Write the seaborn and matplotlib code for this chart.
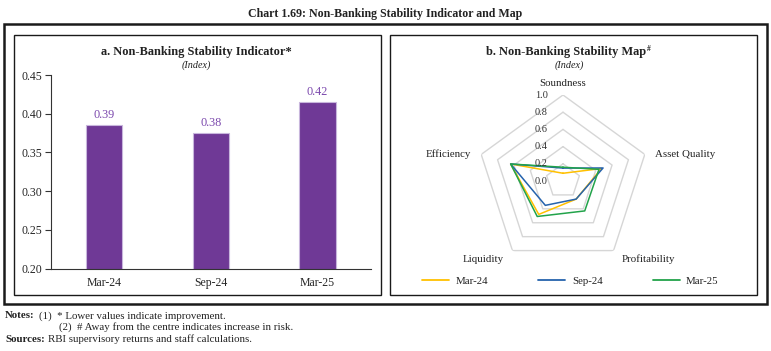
import numpy as np
import pandas as pd
import seaborn as sns
import matplotlib.pyplot as plt
from matplotlib.patches import Rectangle

# data
periods = ['Mar-24', 'Sep-24', 'Mar-25']
nbsi = [0.385, 0.375, 0.415]
nbsi_labels = ['0.39', '0.38', '0.42']

dimensions = ['Soundness', 'Asset Quality', 'Profitability', 'Liquidity', 'Efficiency']
map_mar24 = [0.09, 0.47, 0.26, 0.48, 0.64]
map_sep24 = [0.15, 0.49, 0.26, 0.35, 0.64]
map_mar25 = [0.16, 0.44, 0.43, 0.51, 0.64]
ring_levels = [0.2, 0.4, 0.6, 0.8, 1.0]

purple = '#6f3996'
line_colors = ['#ffc000', '#2563ad', '#22a34a']

sns.set_style('white')
plt.rcParams['font.family'] = ['Liberation Serif', 'DejaVu Serif']
plt.rcParams['text.color'] = '#222222'

W, H = 771, 351
fig = plt.figure(figsize=(W / 100, H / 100), dpi=100)


def fx(px):
    return px / W


def fy(py):
    return 1 - py / H


# frames
fig.patches.append(Rectangle((fx(4), fy(304)), fx(763), 280 / H, transform=fig.transFigure,
                             fill=False, lw=1.8, edgecolor='#1a1a1a'))
fig.patches.append(Rectangle((fx(13.5), fy(295)), fx(367.5), 260 / H, transform=fig.transFigure,
                             fill=False, lw=1.0, edgecolor='#1a1a1a'))
fig.patches.append(Rectangle((fx(390), fy(295)), fx(367), 260 / H, transform=fig.transFigure,
                             fill=False, lw=1.0, edgecolor='#1a1a1a'))

fig.text(0.5, fy(14), 'Chart 1.69: Non-Banking Stability Indicator and Map', ha='center', va='center',
         fontsize=8.6, fontweight='bold')

# panel a: bars
ax1 = fig.add_axes([fx(50.7), fy(268.7), fx(320.3), 193.7 / H])
sns.barplot(x=periods, y=nbsi, color=purple, width=0.34, edgecolor='#c8b6dc', linewidth=0.8,
            saturation=1, ax=ax1)
ax1.set_ylim(0.20, 0.45)
ax1.set_xlim(-0.5, 2.5)
ax1.set_yticks(np.arange(0.20, 0.451, 0.05))
ax1.set_yticklabels([f'{v:.2f}' for v in np.arange(0.20, 0.451, 0.05)])
ax1.bar_label(ax1.containers[0], labels=nbsi_labels, padding=3, color='#7b48ad', fontsize=8.8)
for side in ['top', 'right']:
    ax1.spines[side].set_visible(False)
for side in ['left', 'bottom']:
    ax1.spines[side].set_color('#333333')
    ax1.spines[side].set_linewidth(0.8)
ax1.set_xticks([-0.5, 0.5, 1.5, 2.5], minor=True)
ax1.tick_params(axis='x', which='major', length=0, labelsize=8.5, pad=6)
ax1.tick_params(axis='x', which='minor', length=4, width=0.8, color='#333333', direction='out')
ax1.tick_params(axis='y', length=4, width=0.8, color='#333333', direction='out', labelsize=8.5, pad=2,
                left=True)
fig.text(fx(196), fy(52), 'a. Non-Banking Stability Indicator*', ha='center', va='center',
         fontsize=8.9, fontweight='bold')
fig.text(fx(196), fy(65), '(Index)', ha='center', va='center', fontsize=7.3, style='italic')

# panel b: stability map
cx, cy, R = 563, 181, 86
ax2 = fig.add_axes([fx(cx - R), fy(cy + R), fx(2 * R), 2 * R / H], projection='polar')
ax2.set_theta_offset(np.pi / 2)
ax2.set_theta_direction(-1)
angles = np.linspace(0, 2 * np.pi, len(dimensions), endpoint=False)
closed = np.append(angles, angles[0])
for lvl in ring_levels:
    ax2.plot(closed, [lvl] * len(closed), color='#d6d6d6', lw=1.0, zorder=1)

rows = []
for name, vals in zip(periods, [map_mar24, map_sep24, map_mar25]):
    for th, v in zip(closed, vals + vals[:1]):
        rows.append({'theta': th, 'value': v, 'period': name})
df = pd.DataFrame(rows)
sns.lineplot(data=df, x='theta', y='value', hue='period', palette=line_colors, sort=False,
             estimator=None, lw=1.1, ax=ax2, legend=False)
ax2.set_ylim(0, 1.0)
ax2.grid(False)
ax2.spines['polar'].set_visible(False)
ax2.set_xticks([])
ax2.set_yticks([])
ax2.set_xlabel('')
ax2.set_ylabel('')
ax2.patch.set_alpha(0)

for lvl in [0.0] + ring_levels:
    ax2.annotate(f'{lvl:.1f}', xy=(0, lvl), xytext=(-11, 0), textcoords='offset points',
                 ha='right', va='center', fontsize=7.5, color='#333333')

label_pos = {
    'Soundness': ((0, 5), 'center', 'bottom'),
    'Asset Quality': ((7, 0), 'left', 'center'),
    'Profitability': ((6, -2.5), 'left', 'top'),
    'Liquidity': ((-6, -3), 'right', 'top'),
    'Efficiency': ((-7, 0), 'right', 'center'),
}
for th, name in zip(angles, dimensions):
    off, ha, va = label_pos[name]
    ax2.annotate(name, xy=(th, 1.0), xytext=off, textcoords='offset points',
                 ha=ha, va=va, fontsize=7.8, color='#222222')

tb = fig.text(fx(566), fy(52), 'b. Non-Banking Stability Map', ha='center', va='center',
              fontsize=8.9, fontweight='bold')
fig.canvas.draw()
bb = tb.get_window_extent(renderer=fig.canvas.get_renderer())
fig.text((bb.x1 + 1) / fig.dpi / fig.get_figwidth(), fy(49), '#', ha='left', va='center',
         fontsize=5.5, fontweight='bold')
fig.text(fx(569), fy(65), '(Index)', ha='center', va='center', fontsize=7.3, style='italic')

handles = [plt.Line2D([], [], color=c, lw=1.3) for c in line_colors]
fig.legend(handles, periods, loc='center', bbox_to_anchor=(fx(570.5), fy(281)), ncol=3, frameon=False,
           fontsize=7.8, handlelength=2.5, columnspacing=4.6, handletextpad=0.6)

# notes
nfs = 7.8
fig.text(fx(5), fy(316), 'Notes:', fontsize=nfs, fontweight='bold', va='center')
fig.text(fx(39), fy(316), '(1)  * Lower values indicate improvement.', fontsize=nfs, va='center')
fig.text(fx(59), fy(327.5), '(2)  # Away from the centre indicates increase in risk.', fontsize=nfs,
         va='center')
fig.text(fx(5), fy(339), 'Sources:', fontsize=nfs, fontweight='bold', va='center')
fig.text(fx(48), fy(339), 'RBI supervisory returns and staff calculations.', fontsize=nfs, va='center')

fig.savefig('out.png', dpi=100)
